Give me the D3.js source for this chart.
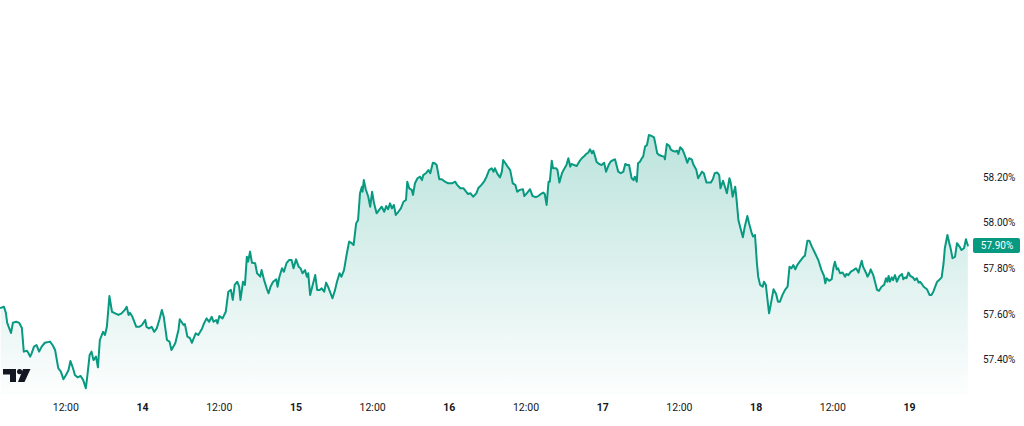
<!DOCTYPE html>
<html><head><meta charset="utf-8">
<script src="https://cdn.jsdelivr.net/npm/d3@7"></script>
<style>html,body{margin:0;padding:0;background:#fff;overflow:hidden}svg{display:block}</style>
</head><body><svg id="c" width="1024" height="426"></svg>
<script>
// hours since day 13, 00:00
const hours = [
1.9,2.4,2.7,2.9,3.2,3.5,3.8,4.3,4.8,5.2,
5.5,6.0,6.2,6.5,6.7,7.1,7.5,7.9,8.3,8.8,
9.6,10.0,10.4,10.9,11.3,11.7,12.1,12.5,12.8,13.2,
13.5,13.9,14.4,14.8,15.2,15.4,15.8,16.1,16.4,16.8,
17.1,17.4,17.9,18.2,18.5,18.9,19.3,19.8,20.3,20.8,
21.3,21.6,21.9,22.1,22.5,23.1,23.6,24.0,24.5,24.7,
25.1,25.5,25.9,26.3,26.7,27.1,27.4,27.9,28.3,28.6,
29.2,29.7,29.9,30.5,30.7,31.1,31.5,31.8,32.1,32.4,
32.8,33.1,33.4,33.7,34.1,34.5,34.9,35.2,35.6,35.8,
36.1,36.6,37.1,37.5,37.9,38.2,38.5,38.9,39.2,39.4,
39.8,40.1,40.4,40.6,40.9,41.2,41.7,42.0,42.5,42.7,
43.1,43.5,43.8,44.1,44.5,45.0,45.2,45.5,45.9,46.2,
46.6,47.0,47.4,47.7,48.1,48.5,48.8,49.1,49.5,49.8,
50.0,50.3,50.7,51.1,51.4,51.8,52.1,52.5,52.8,53.1,
53.4,53.8,54.2,54.5,54.9,55.2,55.6,56.0,56.4,56.8,
57.1,57.5,57.8,58.1,58.4,58.5,58.7,59.0,59.4,59.7,
60.0,60.3,60.7,61.1,61.5,61.9,62.2,62.5,62.8,63.1,
63.4,63.7,64.1,64.5,64.9,65.3,65.5,65.8,66.2,66.4,
66.7,67.1,67.5,67.8,68.0,68.4,68.8,69.1,69.5,69.8,
70.1,70.5,70.9,71.4,71.9,72.5,73.0,73.3,73.8,74.3,
74.7,75.0,75.4,75.8,76.3,76.6,77.1,77.5,77.9,78.3,
78.7,79.0,79.2,79.6,80.0,80.3,80.5,80.8,81.2,81.6,
82.0,82.4,82.7,83.1,83.6,83.8,84.2,84.7,85.1,85.6,
86.0,86.4,86.8,87.0,87.3,87.6,87.8,88.1,88.3,88.8,
89.0,89.3,89.7,90.0,90.4,90.7,91.0,91.2,91.6,92.0,
92.4,92.8,93.2,93.5,93.8,94.1,94.4,94.6,94.9,95.1,
95.5,95.9,96.3,96.6,97.0,97.3,97.7,98.0,98.3,98.5,
98.9,99.3,99.6,99.9,100.2,100.6,100.9,101.1,101.4,101.6,
101.9,102.2,102.4,102.7,103.0,103.3,103.7,104.1,104.4,104.6,
104.9,105.3,105.7,105.8,106.1,106.5,106.7,107.0,107.4,107.7,
107.9,108.2,108.6,109.0,109.3,109.6,110.0,110.3,110.7,111.0,
111.3,111.6,111.9,112.3,112.6,113.0,113.3,113.6,114.0,114.3,
114.5,114.9,115.2,115.5,115.9,116.1,116.4,116.8,117.0,117.3,
117.7,118.0,118.3,118.7,119.0,119.4,119.6,119.9,120.2,120.4,
120.7,121.1,121.3,121.6,121.8,122.1,122.4,122.8,123.2,123.5,
123.8,124.2,124.6,125.0,125.3,125.6,125.9,126.2,126.5,126.9,
127.5,127.7,128.1,128.4,128.8,129.3,129.8,130.3,130.7,130.9,
131.1,131.5,131.9,132.2,132.4,132.7,132.9,133.2,133.6,134.0,
134.2,134.5,134.9,135.3,135.7,136.1,136.3,136.6,136.8,137.3,
137.5,137.8,138.0,138.4,138.8,139.0,139.3,139.7,140.1,140.4,
140.6,140.8,141.0,141.3,141.5,141.8,142.1,142.5,142.9,143.1,
143.4,143.6,143.9,144.2,144.6,144.9,145.2,145.5,145.7,146.0,
146.3,146.8,147.2,147.5,147.8,148.2,148.4,148.7,149.1,149.4,
149.6,150.0,150.3,150.5,150.8,151.2,151.5,151.9,152.2,152.6,
152.9,153.2
];
// percent values
const values = [
57.626,57.631,57.604,57.561,57.538,57.516,57.561,57.565,57.560,57.538,
57.434,57.438,57.429,57.412,57.424,57.456,57.463,57.434,57.456,57.473,
57.478,57.463,57.441,57.361,57.346,57.313,57.331,57.353,57.393,57.361,
57.331,57.321,57.327,57.309,57.273,57.317,57.419,57.434,57.397,57.412,
57.365,57.485,57.521,57.507,57.543,57.678,57.609,57.602,57.595,57.602,
57.617,57.631,57.595,57.605,57.587,57.543,57.543,57.551,57.573,57.543,
57.536,57.543,57.521,57.536,57.573,57.617,57.587,57.485,57.478,57.441,
57.471,57.529,57.576,57.551,57.555,57.500,57.493,57.473,57.493,57.514,
57.507,57.521,57.536,57.558,57.580,57.565,57.587,57.565,57.573,57.558,
57.590,57.580,57.609,57.697,57.705,57.661,57.727,57.741,57.719,57.661,
57.741,57.727,57.851,57.829,57.873,57.824,57.822,57.778,57.763,57.792,
57.748,57.712,57.690,57.719,57.741,57.752,57.719,57.763,57.800,57.785,
57.822,57.836,57.836,57.800,57.839,57.807,57.800,57.778,57.792,57.763,
57.778,57.683,57.727,57.770,57.705,57.705,57.712,57.697,57.737,57.719,
57.697,57.668,57.705,57.741,57.778,57.763,57.792,57.858,57.917,57.910,
57.902,57.997,58.012,58.129,58.158,58.136,58.187,58.147,58.114,58.070,
58.136,58.085,58.041,58.056,58.070,58.048,58.073,58.059,58.085,58.063,
58.078,58.034,58.048,58.063,58.092,58.100,58.180,58.151,58.144,58.122,
58.173,58.195,58.202,58.187,58.209,58.217,58.231,58.217,58.263,58.261,
58.253,58.191,58.191,58.180,58.173,58.173,58.180,58.166,58.151,58.151,
58.136,58.126,58.129,58.114,58.129,58.151,58.166,58.180,58.202,58.231,
58.239,58.224,58.239,58.214,58.199,58.224,58.275,58.263,58.246,58.231,
58.173,58.166,58.136,58.144,58.147,58.117,58.129,58.147,58.117,58.112,
58.117,58.126,58.132,58.126,58.078,58.180,58.180,58.272,58.239,58.239,
58.231,58.176,58.217,58.234,58.253,58.283,58.246,58.258,58.253,58.249,
58.268,58.283,58.293,58.302,58.307,58.322,58.305,58.316,58.290,58.268,
58.258,58.253,58.263,58.224,58.253,58.268,58.275,58.278,58.246,58.224,
58.217,58.224,58.258,58.253,58.253,58.195,58.187,58.202,58.180,58.261,
58.268,58.283,58.290,58.334,58.341,58.385,58.381,58.375,58.334,58.305,
58.297,58.293,58.290,58.278,58.345,58.337,58.322,58.316,58.312,58.316,
58.302,58.331,58.319,58.290,58.263,58.283,58.278,58.253,58.234,58.195,
58.209,58.224,58.217,58.176,58.176,58.176,58.191,58.217,58.220,58.209,
58.151,58.184,58.158,58.129,58.195,58.176,58.114,58.158,58.107,58.012,
57.968,57.936,57.982,58.029,57.994,57.953,57.939,57.946,57.822,57.763,
57.727,57.719,57.741,57.727,57.675,57.602,57.646,57.708,57.687,57.653,
57.653,57.683,57.705,57.719,57.807,57.800,57.814,57.795,57.814,57.829,
57.851,57.854,57.921,57.921,57.895,57.866,57.836,57.792,57.766,57.734,
57.756,57.745,57.752,57.807,57.829,57.795,57.800,57.778,57.781,57.763,
57.775,57.770,57.785,57.792,57.800,57.781,57.804,57.833,57.807,57.778,
57.763,57.778,57.795,57.770,57.727,57.705,57.701,57.719,57.727,57.756,
57.741,57.766,57.741,57.760,57.748,57.770,57.741,57.766,57.775,57.752,
57.760,57.756,57.781,57.766,57.760,57.748,57.756,57.737,57.741,57.731,
57.719,57.708,57.683,57.683,57.697,57.727,57.741,57.748,57.760,57.822,
57.888,57.946,57.910,57.888,57.844,57.851,57.910,57.895,57.880,57.888,
57.927,57.900
];
const xTickHours  = [12,24,36,48,60,72,84,96,108,120,132,144];
const xTickLabels = ["12:00","14","12:00","15","12:00","16","12:00","17","12:00","18","12:00","19"];
const yTickValues = [57.4,57.6,57.8,58.0,58.2];
const yTickLabels = ["57.40%","57.60%","57.80%","58.00%","58.20%"];
const lastLabel = "57.90%";

(function(){
const base = Date.UTC(2025,0,13);
const H2MS = 3600000;
const data = hours.map((h,i)=>({t:new Date(base+h*H2MS), v:values[i]}));

const plotR = 969, plotB = 395;
const teal = "#089981", textCol = "#131722";
const x = d3.scaleUtc()
  .domain([new Date(base+1.78*H2MS), new Date(base+153.38*H2MS)])
  .range([0, plotR]);
const y = d3.scaleLinear().domain([57.2436, 58.9776]).range([plotB, 0]);

const svg = d3.select("#c");
const defs = svg.append("defs");
const topY = y(d3.max(values));
const grad = defs.append("linearGradient").attr("id","g")
  .attr("gradientUnits","userSpaceOnUse").attr("x1",0).attr("x2",0)
  .attr("y1",topY).attr("y2",plotB);
grad.append("stop").attr("offset",0).attr("stop-color",teal).attr("stop-opacity",0.27);
grad.append("stop").attr("offset",1).attr("stop-color",teal).attr("stop-opacity",0.01);
defs.append("clipPath").attr("id","clip").append("rect")
  .attr("x",0).attr("y",0).attr("width",plotR).attr("height",plotB);

const g = svg.append("g").attr("clip-path","url(#clip)");
g.append("path").datum(data).attr("fill","url(#g)")
  .attr("d", d3.area().x(d=>x(d.t)).y0(plotB).y1(d=>y(d.v)));
g.append("path").datum(data).attr("fill","none").attr("stroke",teal)
  .attr("stroke-width",2).attr("stroke-linejoin","round").attr("stroke-linecap","round")
  .attr("d", d3.line().x(d=>x(d.t)).y(d=>y(d.v)));

// x axis
const xAxis = d3.axisBottom(x)
  .tickValues(xTickHours.map(h=>new Date(base+h*H2MS)))
  .tickFormat((d,i)=>xTickLabels[i]).tickSize(0).tickPadding(0);
const xg = svg.append("g").attr("transform","translate(0,404)").call(xAxis);
xg.select(".domain").remove();
xg.selectAll("text").attr("fill",textCol)
  .style("font-family","Roboto, sans-serif").style("font-size","10.5px")
  .style("font-weight",(d,i)=>xTickLabels[i].includes(":")?"400":"700")
  .attr("dy","0.32em").attr("y",4);

// y axis
const yAxis = d3.axisRight(y).tickValues(yTickValues)
  .tickFormat((d,i)=>yTickLabels[i]).tickSize(0).tickPadding(0);
const yg = svg.append("g").attr("transform","translate(983,0)").call(yAxis);
yg.select(".domain").remove();
yg.selectAll("text").attr("fill",textCol)
  .style("font-family","Roboto, sans-serif").style("font-size","10px");

// last value label
const ly = y(values[values.length-1]);
svg.append("rect").attr("x",973).attr("y",ly-7.5).attr("width",47).attr("height",15)
  .attr("rx",2).attr("fill",teal);
svg.append("text").attr("x",997).attr("y",ly).attr("dy","0.35em")
  .attr("text-anchor","middle").attr("fill","#fff")
  .style("font-family","Roboto, sans-serif").style("font-size","10px").text(lastLabel);

// logo
const lg = svg.append("g").attr("transform","translate(3,369)").attr("fill",textCol);
lg.append("path").attr("d","M0,0H13V13H7V5.5H0Z");
lg.append("circle").attr("cx",16.6).attr("cy",2.6).attr("r",2.6);
lg.append("path").attr("d","M20,0H27.5L21.5,13H15Z");
})();
</script></body></html>
